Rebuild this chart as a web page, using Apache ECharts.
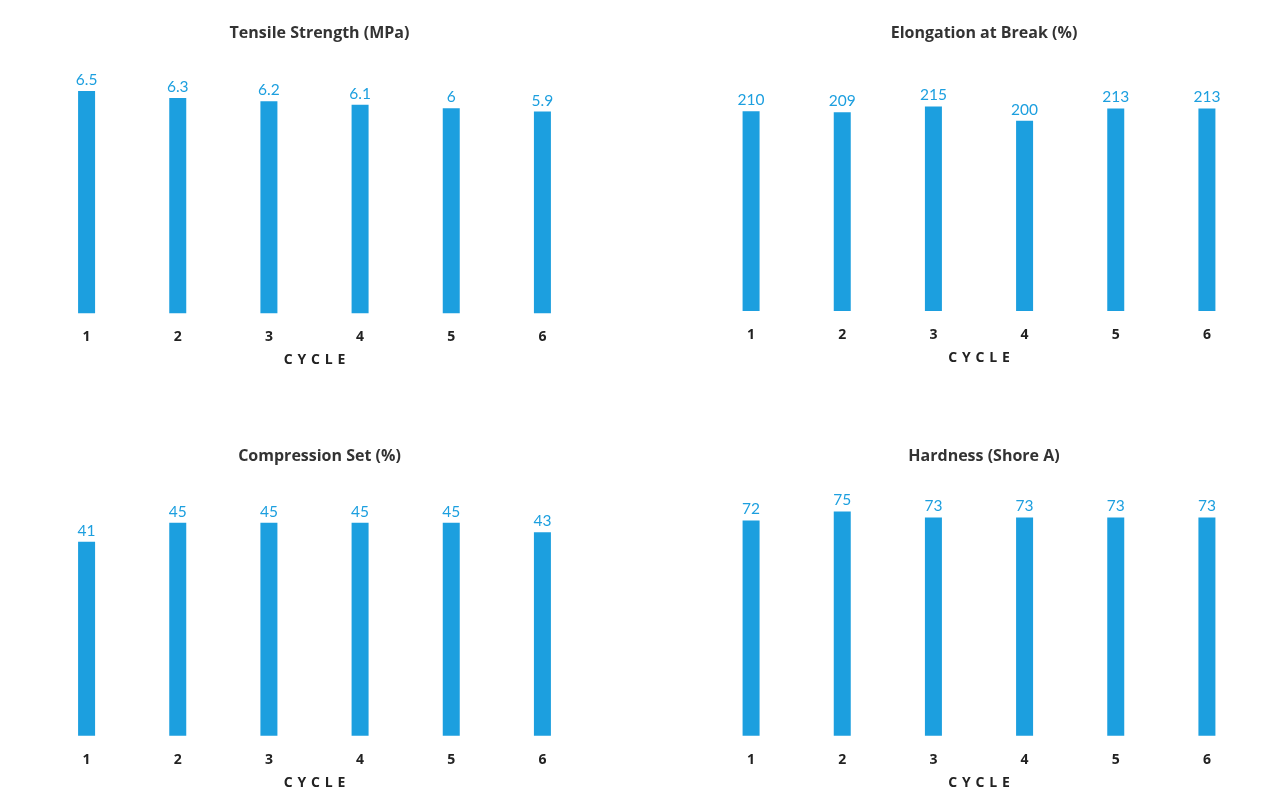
<!DOCTYPE html>
<html>
<head>
<meta charset="utf-8">
<script src="https://cdn.jsdelivr.net/npm/echarts@6/dist/echarts.min.js"></script>
<style>
html,body{margin:0;padding:0;background:#fff;}
#c{width:1280px;height:805px;}
</style>
</head>
<body>
<div id="c"></div>
<script>
const cycles = ['1','2','3','4','5','6'];
const tensile = [6.5, 6.3, 6.2, 6.1, 6, 5.9];
const elongation = [210, 209, 215, 200, 213, 213];
const compression = [41, 45, 45, 45, 45, 43];
const hardness = [72, 75, 73, 73, 73, 73];
const titles = ['Tensile Strength (MPa)', 'Elongation at Break (%)', 'Compression Set (%)', 'Hardness (Shore A)'];
const axisName = 'CYCLE';
const yMax = [7, 250, 50, 80];

const FONT = '"Open Sans", Lato, sans-serif';
const NUMFONT = 'Lato, "Open Sans", sans-serif';
const BLUE = '#1c9fdf';
const grids = [
  {left: 41, width: 547, top: 74, height: 239.3},
  {left: 705.5, width: 547, top: 73.2, height: 237.8},
  {left: 41, width: 547, top: 499.2, height: 236.5},
  {left: 705.5, width: 547, top: 496.5, height: 239.2}
];
const titlePos = [
  {left: 314.5, top: 20},
  {left: 979, top: 20},
  {left: 314.5, top: 443},
  {left: 979, top: 443}
];
const seriesData = [tensile, elongation, compression, hardness];
const nameRich = axisName.split('').map(ch => '{a|' + ch + '}').join('');

const chart = echarts.init(document.getElementById('c'));
chart.setOption({
  backgroundColor: '#fff',
  animation: false,
  title: titles.map((t, i) => ({
    text: t,
    left: titlePos[i].left,
    top: titlePos[i].top,
    textAlign: 'center',
    textStyle: {fontFamily: FONT, fontWeight: 'bold', fontSize: 16, color: '#333'}
  })),
  grid: grids,
  xAxis: grids.map((g, i) => ({
    type: 'category',
    gridIndex: i,
    data: cycles,
    axisLine: {show: false},
    axisTick: {show: false},
    axisLabel: {fontFamily: FONT, fontWeight: 'bold', fontSize: 14, color: '#222', margin: 17},
    name: nameRich,
    nameLocation: 'middle',
    nameGap: 40,
    nameTextStyle: {
      rich: {a: {fontFamily: FONT, fontWeight: 'bold', fontSize: 14, color: '#222', padding: [0, 2.4]}}
    }
  })),
  yAxis: grids.map((g, i) => ({
    type: 'value', gridIndex: i, min: 0, max: yMax[i], show: false, splitLine: {show: false}
  })),
  series: seriesData.map((d, i) => ({
    type: 'bar',
    xAxisIndex: i,
    yAxisIndex: i,
    data: d,
    barWidth: 17,
    itemStyle: {color: BLUE},
    label: {show: true, position: 'top', distance: 3, fontFamily: NUMFONT, fontSize: 15.5, color: BLUE}
  }))
});
</script>
</body>
</html>
